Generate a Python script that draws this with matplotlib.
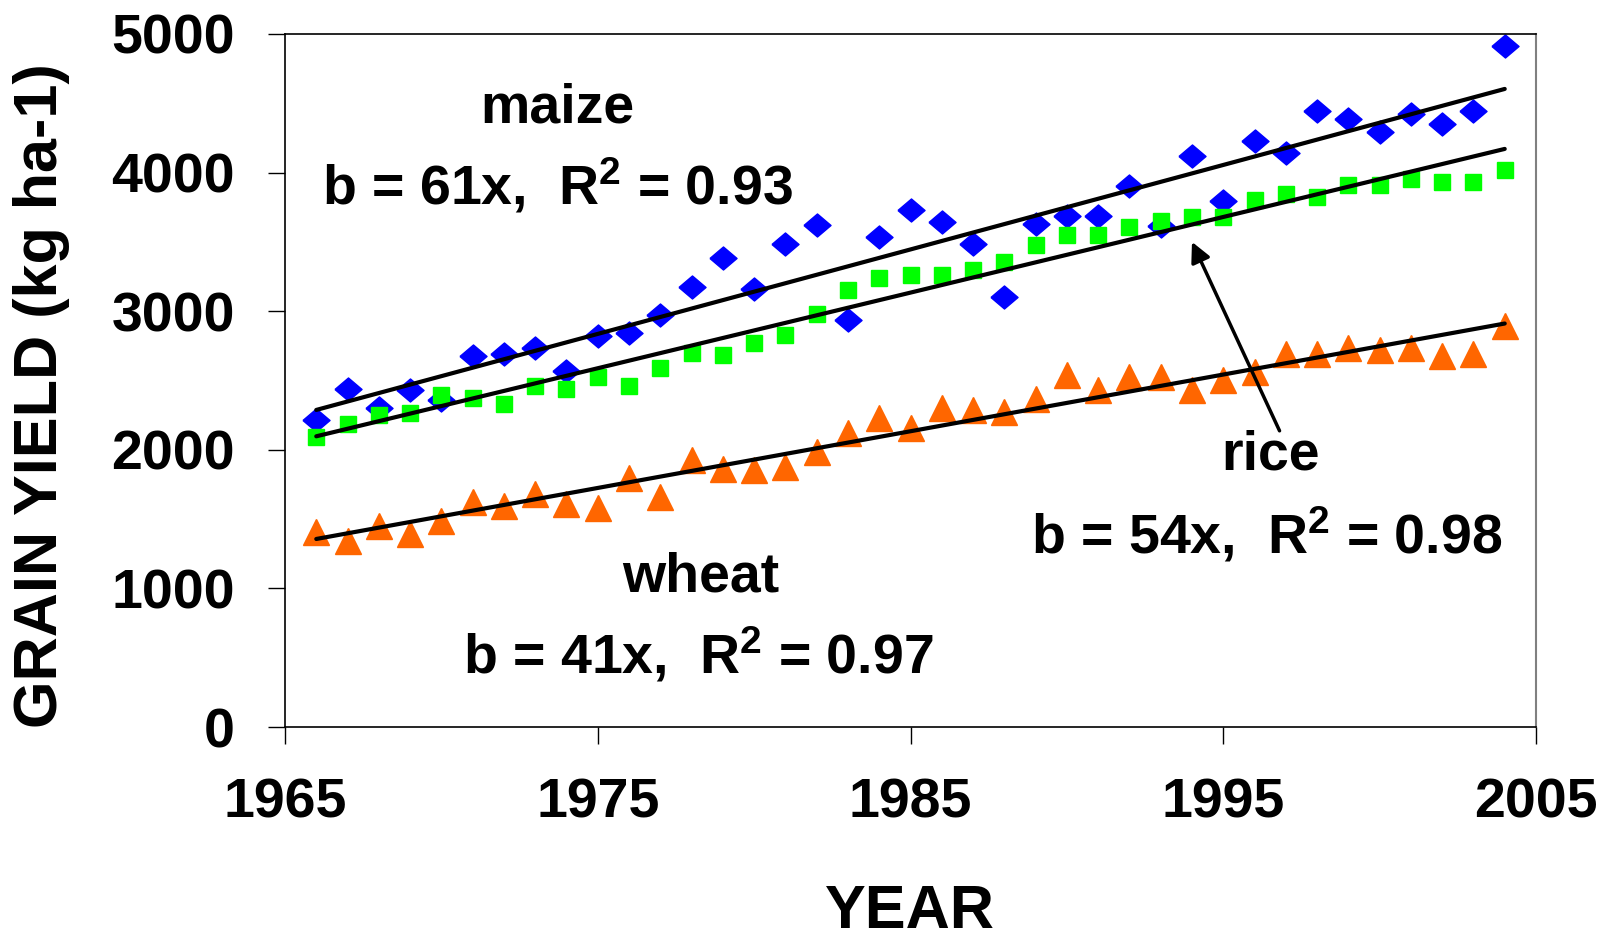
import numpy as np
import matplotlib
matplotlib.use("Agg")
import matplotlib.pyplot as plt

plt.rcParams['font.family'] = ['Liberation Sans', 'DejaVu Sans']
plt.rcParams['font.weight'] = 'bold'
plt.rcParams['mathtext.fontset'] = 'custom'
plt.rcParams['mathtext.rm'] = 'Liberation Sans:bold'
plt.rcParams['mathtext.default'] = 'rm'

years = list(range(1966, 2005))

maize = [2216, 2442, 2299, 2432, 2362, 2674, 2691, 2737, 2565, 2824,
         2840, 2973, 3172, 3382, 3163, 3488, 3621, 2940, 3535, 3727,
         3644, 3488, 3103, 3631, 3687, 3687, 3903, 3614, 4119, 3794,
         4226, 4143, 4445, 4385, 4292, 4425, 4352, 4442, 4917]

rice = [2093, 2183, 2252, 2269, 2392, 2375, 2332, 2458, 2442, 2525,
        2458, 2591, 2697, 2681, 2767, 2830, 2983, 3156, 3239, 3262,
        3262, 3295, 3355, 3481, 3548, 3548, 3604, 3654, 3678, 3678,
        3804, 3847, 3827, 3913, 3913, 3953, 3933, 3933, 4020]

wheat = [1405, 1339, 1448, 1389, 1488, 1621, 1598, 1681, 1611, 1578,
         1794, 1661, 1930, 1864, 1854, 1877, 1987, 2119, 2226, 2159,
         2302, 2286, 2276, 2369, 2541, 2435, 2525, 2525, 2435, 2502,
         2561, 2694, 2694, 2734, 2717, 2734, 2674, 2694, 2893]

labels = {
    'maize': ('maize', r'b = 61x,  R$^2$ = 0.93'),
    'wheat': ('wheat', r'b = 41x,  R$^2$ = 0.97'),
    'rice': ('rice', r'b = 54x,  R$^2$ = 0.98'),
}

fig = plt.figure(figsize=(16.11, 9.40), dpi=100)
ax = fig.add_axes([285 / 1611, 1 - 727 / 940, (1536 - 285) / 1611, (727 - 34) / 940])

x = np.array(years)
diamond = [(-1, 0), (0, 0.85), (1, 0), (0, -0.85), (-1, 0)]
ax.plot(x, maize, linestyle='none', marker=diamond, ms=19.5, color='#0000FF', mec='#0000FF')
ax.plot(x, rice, linestyle='none', marker='s', ms=12.2, color='#00FF00', mec='#00FF00')
ax.plot(x, wheat, linestyle='none', marker='^', ms=18.5, color='#FF6600', mec='#FF6600')

# linear trend lines
for series in (maize, rice, wheat):
    b, a = np.polyfit(x, series, 1)
    xl = np.array([x[0], x[-1]])
    ax.plot(xl, a + b * xl, color='black', lw=3, solid_capstyle='round')

ax.set_xlim(1965, 2005)
ax.set_ylim(0, 5000)
ax.set_xticks([1965, 1975, 1985, 1995, 2005])
ax.set_yticks(range(0, 5001, 1000))
ax.tick_params(axis='both', direction='out', length=12, width=1, pad=24, labelsize=40)
for lab in ax.get_xticklabels() + ax.get_yticklabels():
    lab.set_fontweight('bold')
for side in ('left', 'bottom', 'top'):
    ax.spines[side].set_linewidth(1.2)
    ax.spines[side].set_color('black')
ax.spines['right'].set_color('#808080')
ax.spines['right'].set_linewidth(1.5)

fs = 40
ax.text(1973.7, 4360, labels['maize'][0], ha='center', va='baseline', fontsize=fs, fontweight='bold')
ax.text(1973.7, 3770, labels['maize'][1], ha='center', va='baseline', fontsize=fs, fontweight='bold')
ax.text(1978.3, 978, labels['wheat'][0], ha='center', va='baseline', fontsize=fs, fontweight='bold')
ax.text(1978.2, 388, labels['wheat'][1], ha='center', va='baseline', fontsize=fs, fontweight='bold')
ax.text(1996.5, 1856, labels['rice'][0], ha='center', va='baseline', fontsize=fs, fontweight='bold')
ax.text(1996.4, 1252, labels['rice'][1], ha='center', va='baseline', fontsize=fs, fontweight='bold')

ax.annotate('', xy=(1994.0, 3500), xytext=(1996.8, 2137),
            arrowprops=dict(arrowstyle='-|>', color='black', lw=2.5,
                            mutation_scale=30, shrinkA=0, shrinkB=0))

fig.text(910 / 1611, 1 - 912 / 940, 'YEAR', ha='center', va='center', fontsize=44, fontweight='bold')
fig.text(42 / 1611, 1 - 396 / 940, 'GRAIN YIELD (kg ha-1)', ha='center', va='center',
         rotation=90, fontsize=44, fontweight='bold')

fig.savefig('out.png', dpi=100)
